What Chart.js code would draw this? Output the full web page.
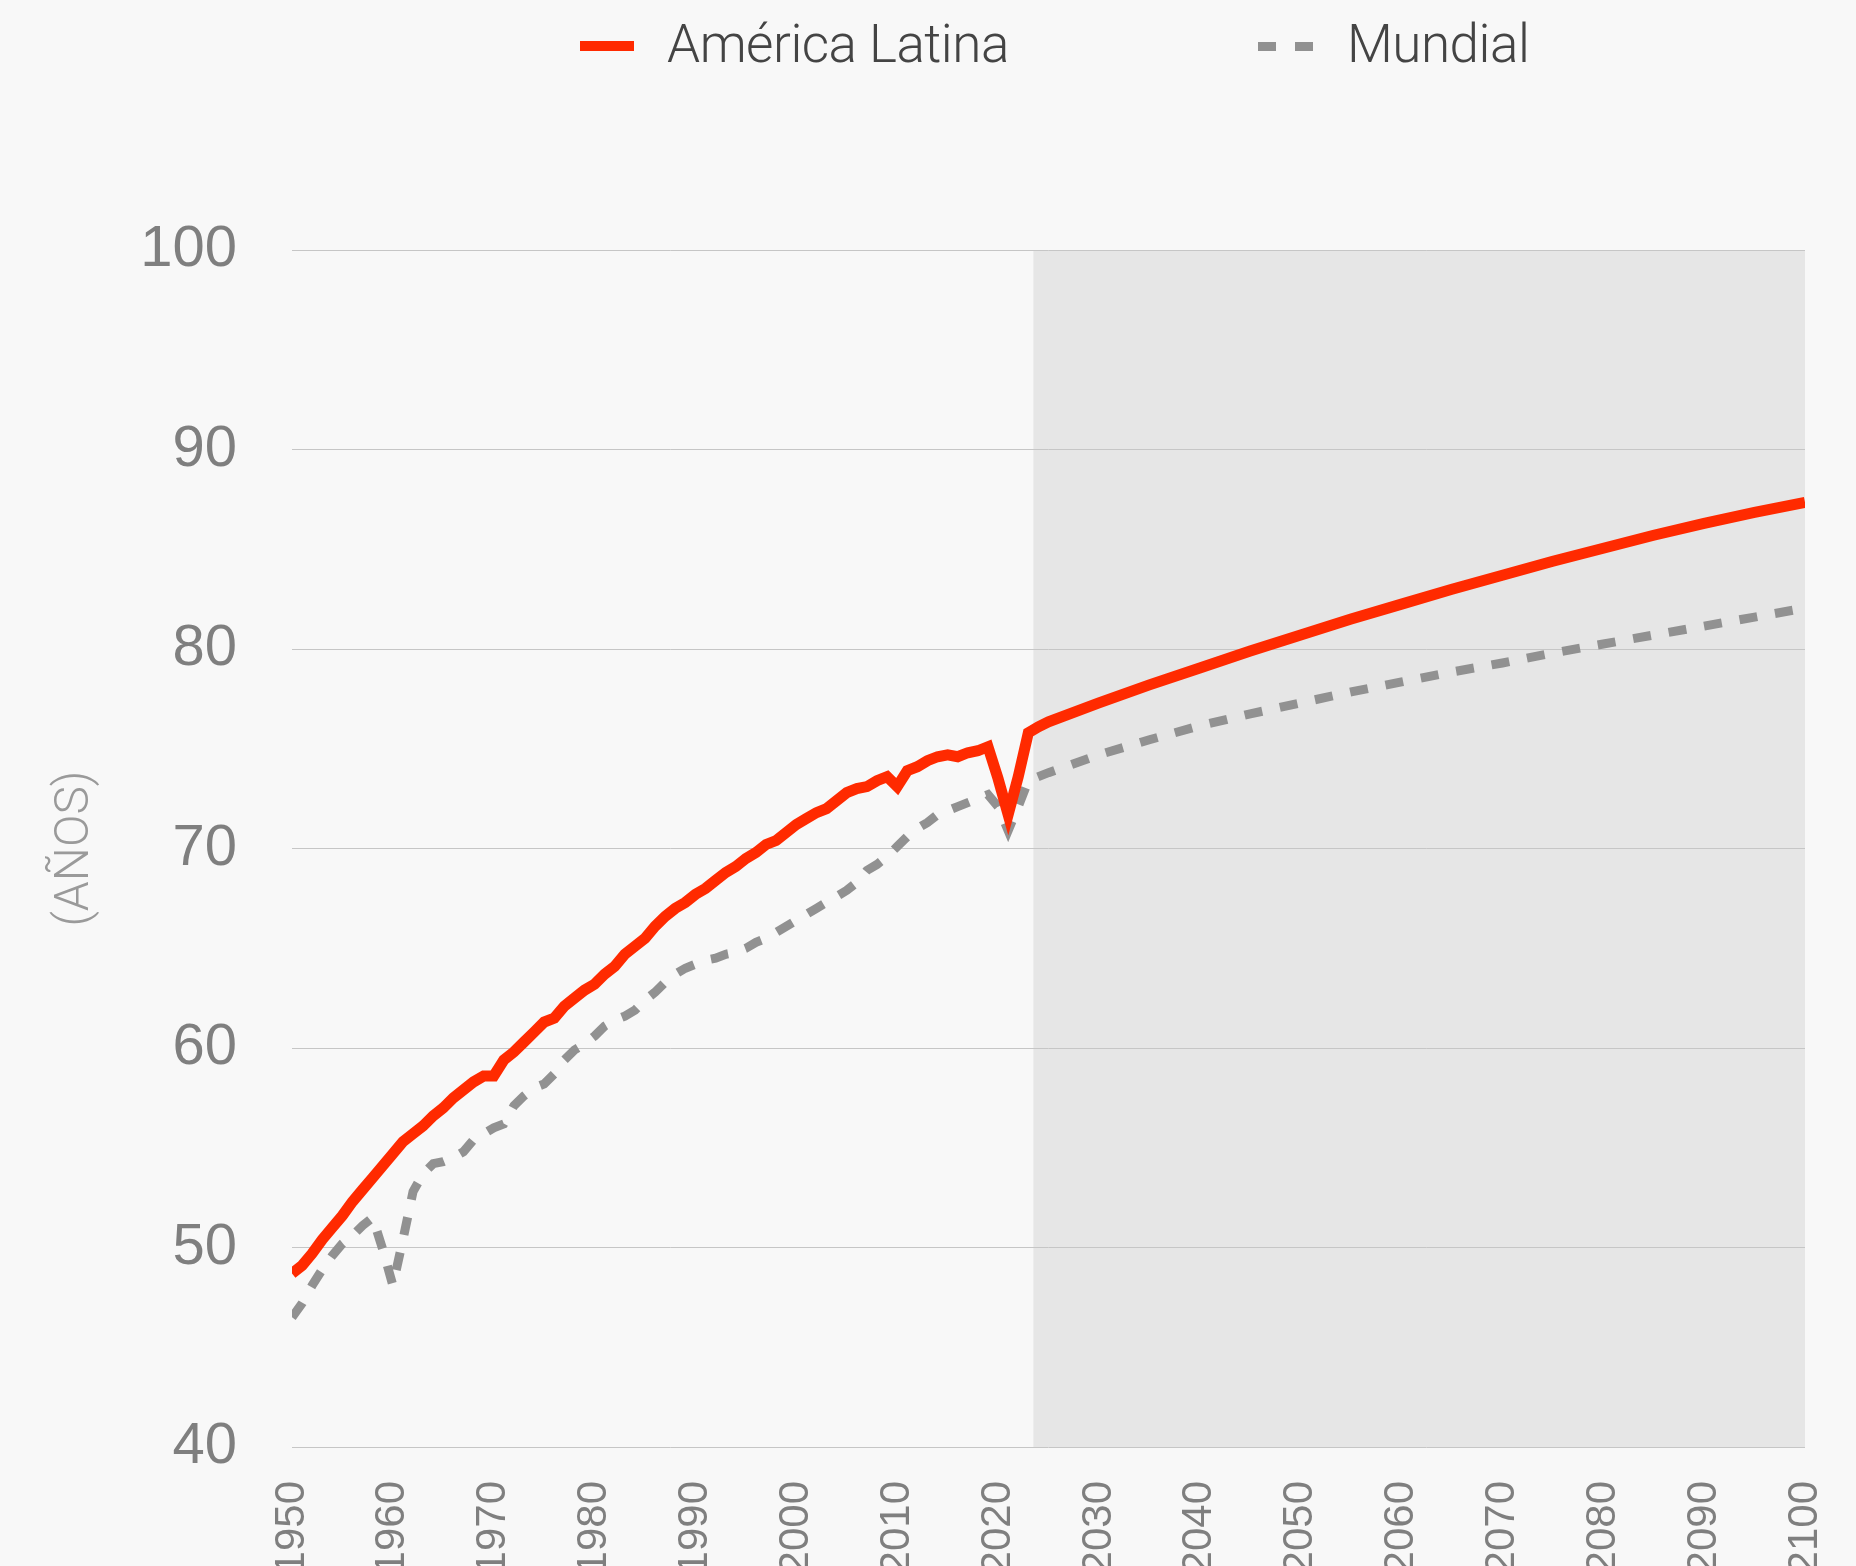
<!DOCTYPE html>
<html lang="es">
<head>
<meta charset="UTF-8">
<title>Esperanza de vida</title>
<script src="https://cdn.jsdelivr.net/npm/chart.js"></script>
<style>
    body { margin: 0; background: #f8f8f8; overflow: hidden; }
    .wrap { position: relative; width: 1856px; height: 1566px; }
    .legend-text {
        position: absolute; top: 18px; font-family: Roboto, 'Liberation Sans', sans-serif;
        font-weight: 300; font-size: 53px; line-height: 1; color: #444; white-space: nowrap;
        letter-spacing: -0.5px;
    }
    .swatch { position: absolute; }
    .solid { left: 580px; top: 41px; width: 54px; height: 10px; background: #ff2a00; }
    .dashed { left: 1258px; top: 41.5px; width: 55px; height: 9px;
        background: linear-gradient(to right, #919191 0 18px, transparent 18px 37px, #919191 37px 55px); }
    canvas { position: absolute; left: 0; top: 0; }
</style>
</head>
<body>
<div class="wrap">
    <span class="swatch solid"></span>
    <span class="legend-text" style="left:667px">América Latina</span>
    <span class="swatch dashed"></span>
    <span class="legend-text" style="left:1347px">Mundial</span>
    <canvas id="chart"></canvas>
</div>
<script>
    // años: anual hasta 2024, luego cada 5 años (proyección)
    const years = [
        1950, 1951, 1952, 1953, 1954, 1955, 1956, 1957, 1958, 1959,
        1960, 1961, 1962, 1963, 1964, 1965, 1966, 1967, 1968, 1969,
        1970, 1971, 1972, 1973, 1974, 1975, 1976, 1977, 1978, 1979,
        1980, 1981, 1982, 1983, 1984, 1985, 1986, 1987, 1988, 1989,
        1990, 1991, 1992, 1993, 1994, 1995, 1996, 1997, 1998, 1999,
        2000, 2001, 2002, 2003, 2004, 2005, 2006, 2007, 2008, 2009,
        2010, 2011, 2012, 2013, 2014, 2015, 2016, 2017, 2018, 2019,
        2020, 2021, 2022, 2023, 2024,
        2025, 2030, 2035, 2040, 2045, 2050, 2055, 2060, 2065, 2070,
        2075, 2080, 2085, 2090, 2095, 2100
    ];
    const americaLatina = [
        48.7, 49.1, 49.7, 50.4, 51.0, 51.6, 52.3, 52.9, 53.5, 54.1,
        54.7, 55.3, 55.7, 56.1, 56.6, 57.0, 57.5, 57.9, 58.3, 58.6,
        58.6, 59.4, 59.8, 60.3, 60.8, 61.3, 61.5, 62.1, 62.5, 62.9,
        63.2, 63.7, 64.1, 64.7, 65.1, 65.5, 66.1, 66.6, 67.0, 67.3,
        67.7, 68.0, 68.4, 68.8, 69.1, 69.5, 69.8, 70.2, 70.4, 70.8,
        71.2, 71.5, 71.8, 72.0, 72.4, 72.8, 73.0, 73.1, 73.4, 73.6,
        73.1, 73.9, 74.1, 74.4, 74.6, 74.7, 74.6, 74.8, 74.9, 75.1,
        73.5, 71.7, 73.6, 75.8, 76.1,
        76.35, 77.3, 78.2, 79.05, 79.9, 80.7, 81.5, 82.25, 83.0, 83.7,
        84.4, 85.05, 85.7, 86.3, 86.85, 87.35
    ];
    const mundial = [
        46.5, 47.2, 48.1, 48.9, 49.6, 50.2, 50.6, 51.1, 51.5, 49.9,
        48.1, 50.4, 52.8, 53.7, 54.2, 54.3, 54.5, 54.8, 55.4, 55.7,
        56.0, 56.2, 57.1, 57.6, 58.0, 58.2, 58.7, 59.4, 59.9, 60.2,
        60.6, 61.1, 61.4, 61.6, 61.9, 62.4, 62.8, 63.3, 63.7, 64.0,
        64.2, 64.4, 64.5, 64.7, 64.8, 65.0, 65.3, 65.5, 65.8, 66.1,
        66.4, 66.7, 67.0, 67.3, 67.6, 67.9, 68.3, 68.9, 69.2, 69.6,
        70.1, 70.6, 71.0, 71.3, 71.7, 71.9, 72.1, 72.3, 72.5, 72.7,
        72.1, 70.9, 72.1, 73.4, 73.6,
        73.8, 74.7, 75.45, 76.15, 76.75, 77.3, 77.85, 78.35, 78.85, 79.3,
        79.8, 80.25, 80.7, 81.15, 81.6, 82.05
    ];
    const xTicks = [1950, 1960, 1970, 1980, 1990, 2000, 2010, 2020, 2030, 2040, 2050, 2060, 2070, 2080, 2090, 2100];
    const yTicks = [40, 50, 60, 70, 80, 90, 100];
    const projectionFrom = 2023.5;

    // zona sombreada de proyección
    const shadePlugin = {
        id: 'shade',
        beforeDraw(chart) {
            const {ctx, chartArea, scales} = chart;
            const x0 = scales.x.getPixelForValue(projectionFrom);
            const x1 = scales.x.getPixelForValue(2100);
            ctx.save();
            ctx.fillStyle = '#e6e6e6';
            ctx.fillRect(x0, chartArea.top, x1 - x0, chartArea.bottom - chartArea.top);
            ctx.restore();
        }
    };

    const ctx = document.getElementById('chart').getContext('2d');
    new Chart(ctx, {
        type: 'line',
        data: {
            datasets: [
                {
                    label: 'América Latina',
                    data: years.map((x, i) => ({x: x, y: americaLatina[i]})),
                    borderColor: '#ff2a00',
                    borderWidth: 11,
                    pointRadius: 0,
                    tension: 0,
                    order: 1
                },
                {
                    label: 'Mundial',
                    data: years.map((x, i) => ({x: x, y: mundial[i]})),
                    borderColor: '#919191',
                    borderWidth: 9,
                    borderDash: [18, 18],
                    pointRadius: 0,
                    tension: 0,
                    order: 2
                }
            ]
        },
        options: {
            responsive: true,
            maintainAspectRatio: false,
            animation: false,
            layout: { padding: { top: 250, right: 51, left: 0, bottom: 0 } },
            plugins: { legend: { display: false }, tooltip: { enabled: false } },
            scales: {
                x: {
                    type: 'linear',
                    min: 1950,
                    max: 2100,
                    afterBuildTicks: (scale) => { scale.ticks = xTicks.map(v => ({value: v})); },
                    afterFit: (scale) => {
                        scale.height = 119;
                        scale.paddingLeft = 0;
                        scale.paddingRight = 0;
                    },
                    grid: { display: false },
                    border: { display: false },
                    ticks: {
                        autoSkip: false,
                        minRotation: 90,
                        maxRotation: 90,
                        padding: 26,
                        color: '#7f7f7f',
                        font: { family: 'Liberation Sans', size: 42 },
                        callback: (v) => String(v)
                    }
                },
                y: {
                    min: 40,
                    max: 100,
                    afterBuildTicks: (scale) => { scale.ticks = yTicks.map(v => ({value: v})); },
                    afterFit: (scale) => { scale.width = 292; },
                    grid: { color: '#c6c6c6', lineWidth: 1, drawTicks: false },
                    border: { display: false },
                    ticks: {
                        padding: 55,
                        color: '#7f7f7f',
                        font: { family: 'Liberation Sans', size: 58 }
                    },
                    title: {
                        display: true,
                        text: '(AÑOS)',
                        color: '#9a9a9a',
                        font: { family: 'Roboto', weight: 300, size: 48 },
                        padding: { top: 47, bottom: 0 }
                    }
                }
            }
        },
        plugins: [shadePlugin]
    });
</script>
</body>
</html>
